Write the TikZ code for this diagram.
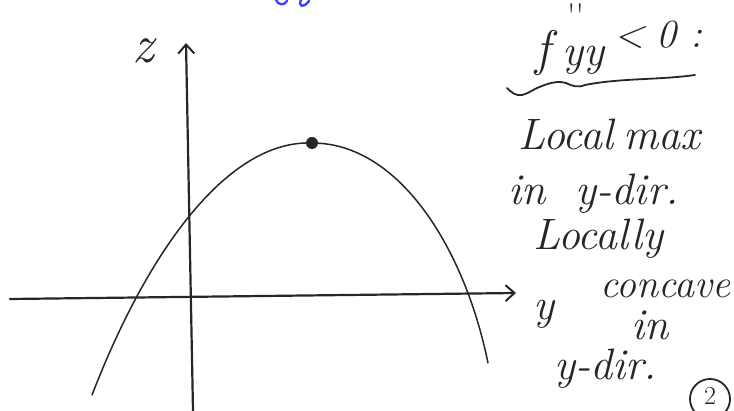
\documentclass[tikz,border=0pt]{standalone}
\usetikzlibrary{arrows.meta}
\begin{document}
\begin{tikzpicture}[x=1pt,y=-1pt,
  pen/.style={line width=2.2pt,line cap=round,line join=round,black!85},
  hand/.style={font=\fontsize{44}{46}\selectfont\itshape,black!85,inner sep=0pt,anchor=base west},
  axarrow/.style={-{Straight Barb[length=9pt,width=16pt,line width=2pt]}}]
\useasboundingbox (0,0) rectangle (734,411);
% blue fragment at top (cut off)
\draw[line width=2.4pt,blue!75,line cap=round] (276,0) .. controls (278,5) and (284,6) .. (287,1);
\draw[line width=2.4pt,blue!75,line cap=round] (301,0) .. controls (298,6) and (303,9) .. (309,1);
% axes
\coordinate (xs) at (10,299);
\coordinate (xe) at (516,293);
\coordinate (ys) at (193,411);
\coordinate (ye) at (186,43);
\draw[pen,axarrow] (xs) -- (xe);
\draw[pen,axarrow] (ys) -- (ye);
% parabola
\coordinate (top) at (312,143);
\draw[pen,line width=1.5pt] (92,395) .. controls (150,245) and (230,140) .. (top)
  .. controls (400,143) and (465,250) .. (488,363);
\fill[black!85] (top) circle (6pt);
% labels
\node[hand,font=\fontsize{54}{56}\selectfont\itshape] (z) at (132,63) {z};
\node[hand] (y) at (533,320) {y};
\node[hand,font=\fontsize{50}{52}\selectfont\itshape] (f) at (535,66) {f};
\node[hand,font=\fontsize{34}{34}\selectfont] (pr) at (567,28) {\textquotesingle\textquotesingle};
\node[hand] (yy) at (562,66) {yy};
\node[hand,font=\fontsize{40}{42}\selectfont\itshape] (lt) at (614,48) {\textless\hspace{12pt}0\hspace{14pt}:};
\draw[pen,line width=1.8pt] (507,88) .. controls (512,93) and (516,96) .. (522,95)
  .. controls (530,93) and (535,88) .. (542,86)
  .. controls (552,82) and (560,81) .. (566,83)
  .. controls (572,86) and (578,88) .. (585,85)
  .. controls (620,78) and (660,80) .. (695,75);
\node[hand] (l1) at (518,150) {Local\hspace{10pt}max};
\node[hand] (l2) at (508,205) {in\hspace{30pt}y-dir.};
\node[hand] (l3) at (533,250) {Locally};
\node[hand,font=\fontsize{40}{42}\selectfont\itshape] (l4) at (600,298) {concave};
\node[hand] (l5) at (631,340) {in};
\node[hand] (l6) at (554,380) {y-dir.};
\coordinate (cc) at (710,399);
\draw[pen,line width=1.8pt] (cc) circle (20pt);
\node[black!85,inner sep=0pt,font=\fontsize{26}{26}\selectfont] (c2) at (710,396) {2};
\end{tikzpicture}
\end{document}
